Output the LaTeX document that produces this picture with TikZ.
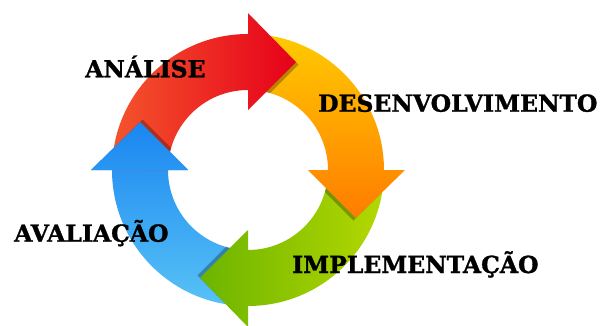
\documentclass[tikz,border=0pt]{standalone}
\usepackage{fontspec}
\newfontfamily\lblfont{DejaVu Serif}[BoldFeatures={FakeBold=1.2}]
\definecolor{redA}{HTML}{F4552C}
\definecolor{redB}{HTML}{E6001A}
\definecolor{orA}{HTML}{FFCA00}
\definecolor{orB}{HTML}{FF7C00}
\definecolor{grA}{HTML}{B4D800}
\definecolor{grB}{HTML}{6CB400}
\definecolor{blA}{HTML}{58C2F6}
\definecolor{blB}{HTML}{1A86F0}
\newcommand\cycarrow[1]{({#1+90}:136) arc[start angle={#1+90}, end angle={#1}, radius=136] -- (#1:157) -- ({#1-24}:118) -- (#1:60) -- (#1:80) arc[start angle={#1}, end angle={#1+90}, radius=80] -- cycle}
\newcommand\cychead[1]{(#1:157) -- ({#1-24}:118) -- (#1:60) -- cycle}
\newcommand\cycshadow[1]{%
  \begin{scope}[even odd rule]
    \clip (0,0) circle[radius=136] (0,0) circle[radius=80];
    \fill[black, opacity=0.28, shift={({#1-135}:3.5)}] \cychead{#1};
  \end{scope}}
\tikzset{
  lbl/.style={font=\lblfont\bfseries\fontsize{23.5}{23.5}\selectfont, inner sep=0pt, text=black, anchor=base west},
  redar/.style={left color=redA, right color=redB},
  orar/.style={top color=orA, bottom color=orB},
  grar/.style={right color=grA, left color=grB},
  blar/.style={bottom color=blA, top color=blB}
}
\begin{document}
\begin{tikzpicture}[x=1pt,y=1pt]
\useasboundingbox (0,0) rectangle (603,325);
\fill[white] (0,0) rectangle (603,325);
\begin{scope}[shift={(248,155)}]
  \shade[blar] \cycarrow{180};
  \cycshadow{270}
  \shade[grar] \cycarrow{270};
  \cycshadow{0}
  \shade[orar] \cycarrow{0};
  \cycshadow{90}
  \shade[redar] \cycarrow{90};
  \cycshadow{180}
  \begin{scope}
    \clip \cychead{180};
    \shade[blar] \cycarrow{180};
  \end{scope}
\end{scope}
\node[lbl] (ana) at (85,247.7) {ANÁLISE};
\node[lbl] (des) at (318,213.3) {DESENVOLVIMENTO};
\node[lbl] (imp) at (292,52) {IMPLEMENTAÇÃO};
\node[lbl] (ava) at (14,83.3) {AVALIAÇÃO};
\end{tikzpicture}
\end{document}
